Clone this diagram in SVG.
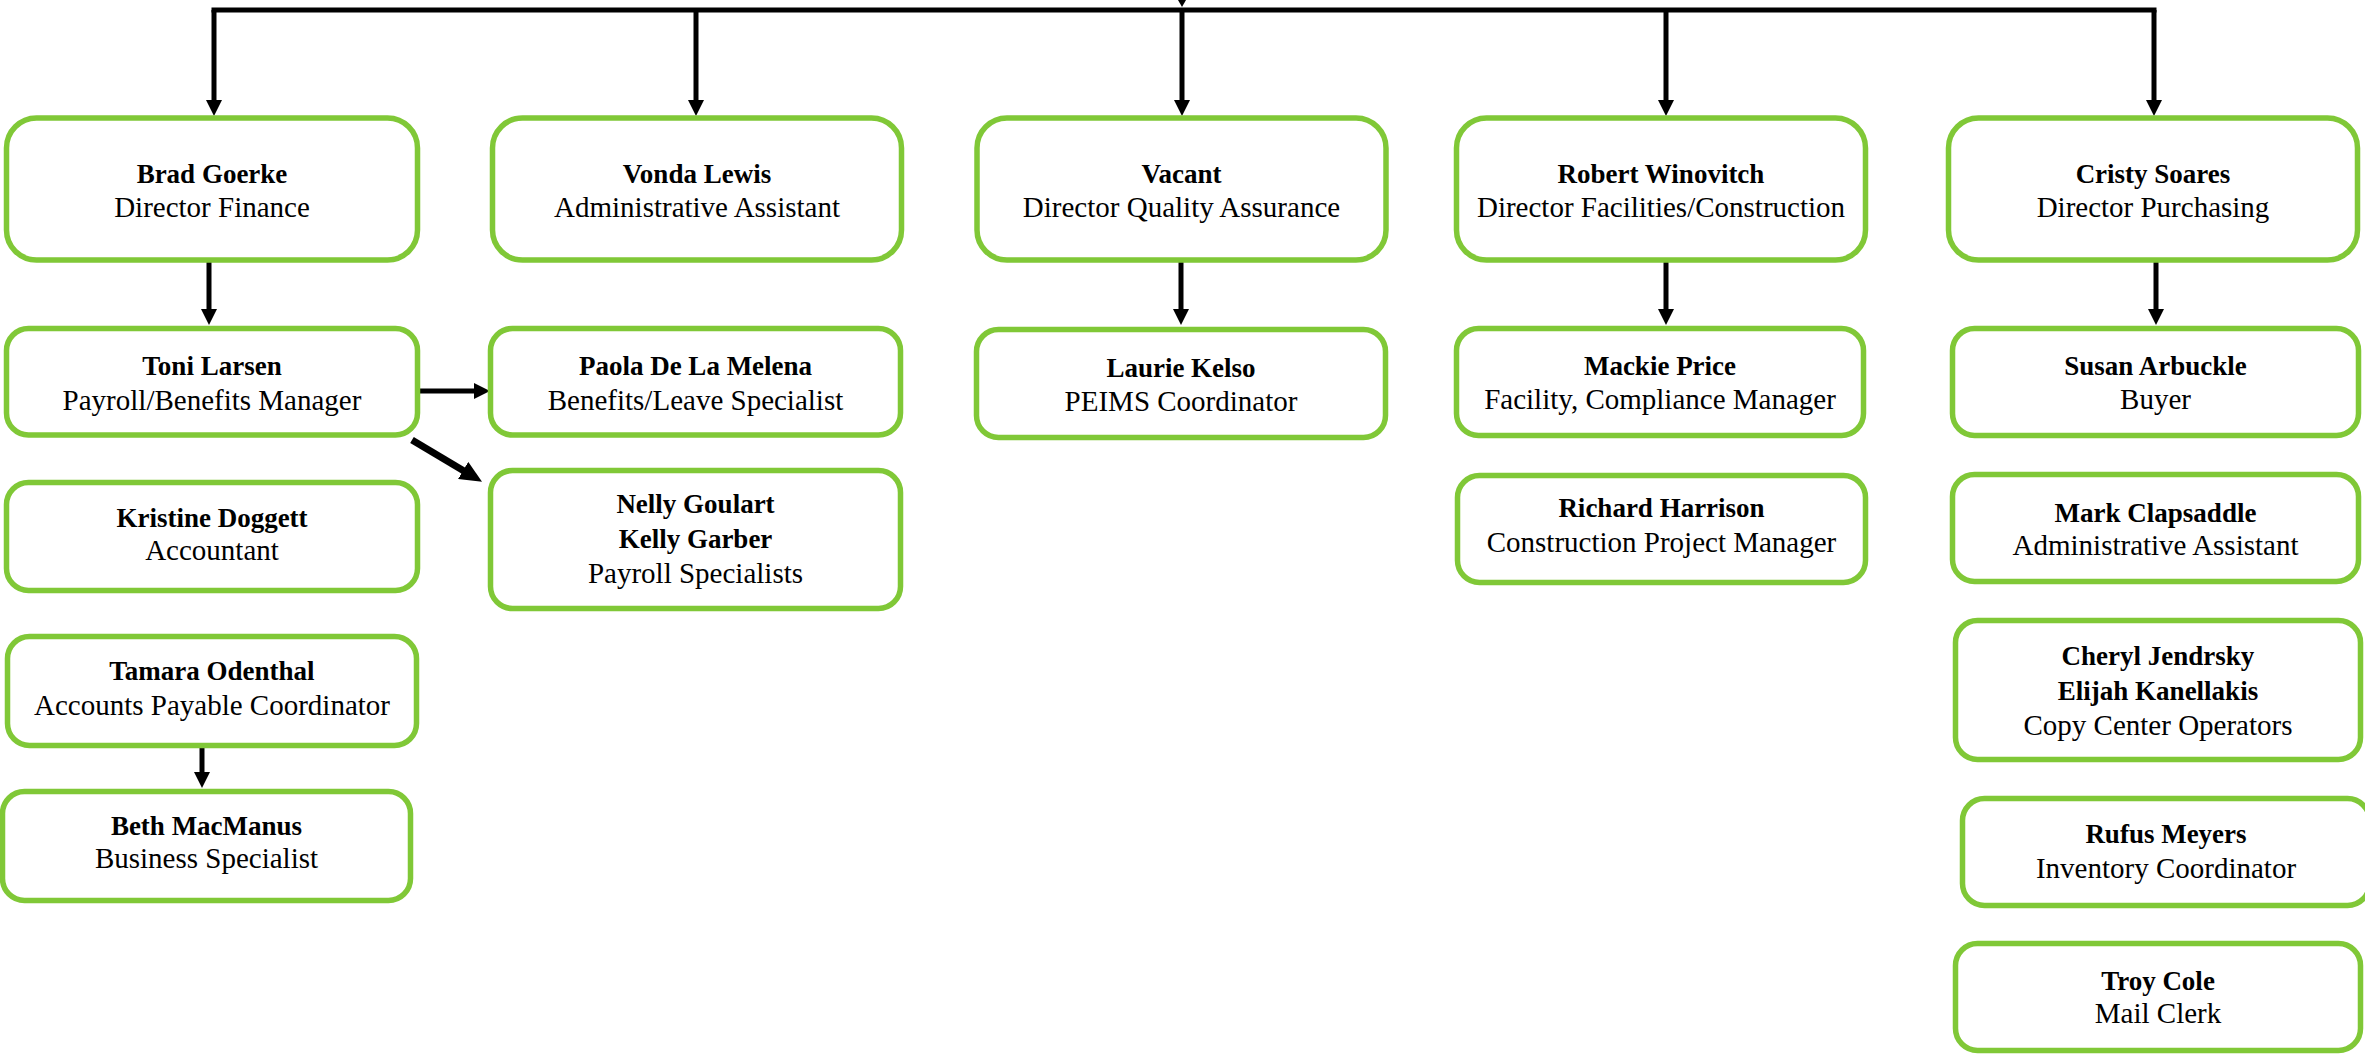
<svg xmlns="http://www.w3.org/2000/svg" width="2365" height="1055" viewBox="0 0 2365 1055">
<style>
.box{fill:#ffffff;stroke:#80C837;stroke-width:5.5}
.ln{stroke:#000;stroke-width:5;fill:none}
.dg{stroke:#000;stroke-width:7;fill:none}
text{font-family:"Liberation Serif","Times New Roman",serif;text-anchor:middle;fill:#000}
.n{font-weight:bold;font-size:27px}
.t{font-size:29px}
</style>
<defs>
<marker id="ah" markerUnits="userSpaceOnUse" markerWidth="16" markerHeight="16" viewBox="0 0 16 16" refX="1" refY="8" orient="auto">
<path d="M0,0 L16,8 L0,16 z" fill="#000"/>
</marker>
<marker id="ahb" markerUnits="userSpaceOnUse" markerWidth="22" markerHeight="20" viewBox="0 0 22 20" refX="1" refY="10" orient="auto">
<path d="M0,0 L22,10 L0,20 z" fill="#000"/>
</marker>
</defs>
<rect width="2365" height="1055" fill="#ffffff"/>
<g id="connectors">
<polygon points="1178,0 1186,0 1182,7" fill="#000"/>
<line class="ln" x1="211.5" y1="10" x2="2156.5" y2="10"/>
<line class="ln" x1="214" y1="10" x2="214" y2="101" marker-end="url(#ah)"/>
<line class="ln" x1="696" y1="10" x2="696" y2="101" marker-end="url(#ah)"/>
<line class="ln" x1="1182" y1="10" x2="1182" y2="101" marker-end="url(#ah)"/>
<line class="ln" x1="1666" y1="10" x2="1666" y2="101" marker-end="url(#ah)"/>
<line class="ln" x1="2154" y1="10" x2="2154" y2="101" marker-end="url(#ah)"/>
<line class="ln" x1="209" y1="262" x2="209" y2="310" marker-end="url(#ah)"/>
<line class="ln" x1="1181" y1="262" x2="1181" y2="310" marker-end="url(#ah)"/>
<line class="ln" x1="1666" y1="262" x2="1666" y2="310" marker-end="url(#ah)"/>
<line class="ln" x1="2156" y1="262" x2="2156" y2="310" marker-end="url(#ah)"/>
<line class="ln" x1="202" y1="747" x2="202" y2="773" marker-end="url(#ah)"/>
<line class="ln" x1="418" y1="391" x2="475" y2="391" marker-end="url(#ah)"/>
<line class="dg" x1="412" y1="440" x2="464" y2="471" marker-end="url(#ahb)"/>
</g>
<g id="brad"><rect class="box" x="6.5" y="118" width="411" height="142" rx="30"/><text class="n" x="212" y="183">Brad Goerke</text><text class="t" x="212" y="217">Director Finance</text></g>
<g id="vonda"><rect class="box" x="492.5" y="118" width="409" height="142" rx="30"/><text class="n" x="697" y="183">Vonda Lewis</text><text class="t" x="697" y="217">Administrative Assistant</text></g>
<g id="vacant"><rect class="box" x="977" y="118" width="409" height="142" rx="30"/><text class="n" x="1181.5" y="183">Vacant</text><text class="t" x="1181.5" y="217">Director Quality Assurance</text></g>
<g id="robert"><rect class="box" x="1456.5" y="118" width="409" height="142" rx="30"/><text class="n" x="1661" y="183">Robert Winovitch</text><text class="t" x="1661" y="217">Director Facilities/Construction</text></g>
<g id="cristy"><rect class="box" x="1948.5" y="118" width="409" height="142" rx="30"/><text class="n" x="2153" y="183">Cristy Soares</text><text class="t" x="2153" y="217">Director Purchasing</text></g>
<g id="toni"><rect class="box" x="6.5" y="328.5" width="411" height="106.5" rx="22"/><text class="n" x="212" y="375">Toni Larsen</text><text class="t" x="212" y="410">Payroll/Benefits Manager</text></g>
<g id="paola"><rect class="box" x="490.5" y="328.5" width="410" height="106.5" rx="22"/><text class="n" x="695.5" y="375">Paola De La Melena</text><text class="t" x="695.5" y="410">Benefits/Leave Specialist</text></g>
<g id="laurie"><rect class="box" x="976.5" y="329.5" width="409" height="108" rx="22"/><text class="n" x="1181" y="377">Laurie Kelso</text><text class="t" x="1181" y="411">PEIMS Coordinator</text></g>
<g id="mackie"><rect class="box" x="1456.5" y="328.5" width="407" height="107" rx="22"/><text class="n" x="1660" y="375">Mackie Price</text><text class="t" x="1660" y="409">Facility, Compliance Manager</text></g>
<g id="susan"><rect class="box" x="1952.5" y="328.5" width="406" height="107" rx="22"/><text class="n" x="2155.5" y="375">Susan Arbuckle</text><text class="t" x="2155.5" y="409">Buyer</text></g>
<g id="kristine"><rect class="box" x="6.5" y="482.5" width="411" height="108" rx="22"/><text class="n" x="212" y="527">Kristine Doggett</text><text class="t" x="212" y="560">Accountant</text></g>
<g id="nelly"><rect class="box" x="490.5" y="470.5" width="410" height="138" rx="22"/><text class="n" x="695.5" y="513">Nelly Goulart</text><text class="n" x="695.5" y="548">Kelly Garber</text><text class="t" x="695.5" y="583">Payroll Specialists</text></g>
<g id="richard"><rect class="box" x="1457.5" y="475.5" width="408" height="107" rx="22"/><text class="n" x="1661.5" y="517">Richard Harrison</text><text class="t" x="1661.5" y="552">Construction Project Manager</text></g>
<g id="mark"><rect class="box" x="1952.5" y="474.5" width="406" height="107" rx="22"/><text class="n" x="2155.5" y="522">Mark Clapsaddle</text><text class="t" x="2155.5" y="555">Administrative Assistant</text></g>
<g id="tamara"><rect class="box" x="7.5" y="636.5" width="409" height="109" rx="22"/><text class="n" x="212" y="680">Tamara Odenthal</text><text class="t" x="212" y="715">Accounts Payable Coordinator</text></g>
<g id="beth"><rect class="box" x="2.5" y="791.5" width="408" height="109" rx="22"/><text class="n" x="206.5" y="835">Beth MacManus</text><text class="t" x="206.5" y="868">Business Specialist</text></g>
<g id="cheryl"><rect class="box" x="1955.5" y="620.5" width="405" height="139" rx="22"/><text class="n" x="2158" y="665">Cheryl Jendrsky</text><text class="n" x="2158" y="700">Elijah Kanellakis</text><text class="t" x="2158" y="735">Copy Center Operators</text></g>
<g id="rufus"><rect class="box" x="1962.5" y="798.5" width="407" height="107" rx="22"/><text class="n" x="2166" y="843">Rufus Meyers</text><text class="t" x="2166" y="878">Inventory Coordinator</text></g>
<g id="troy"><rect class="box" x="1955.5" y="943.5" width="405" height="107" rx="22"/><text class="n" x="2158" y="990">Troy Cole</text><text class="t" x="2158" y="1023">Mail Clerk</text></g>
</svg>
